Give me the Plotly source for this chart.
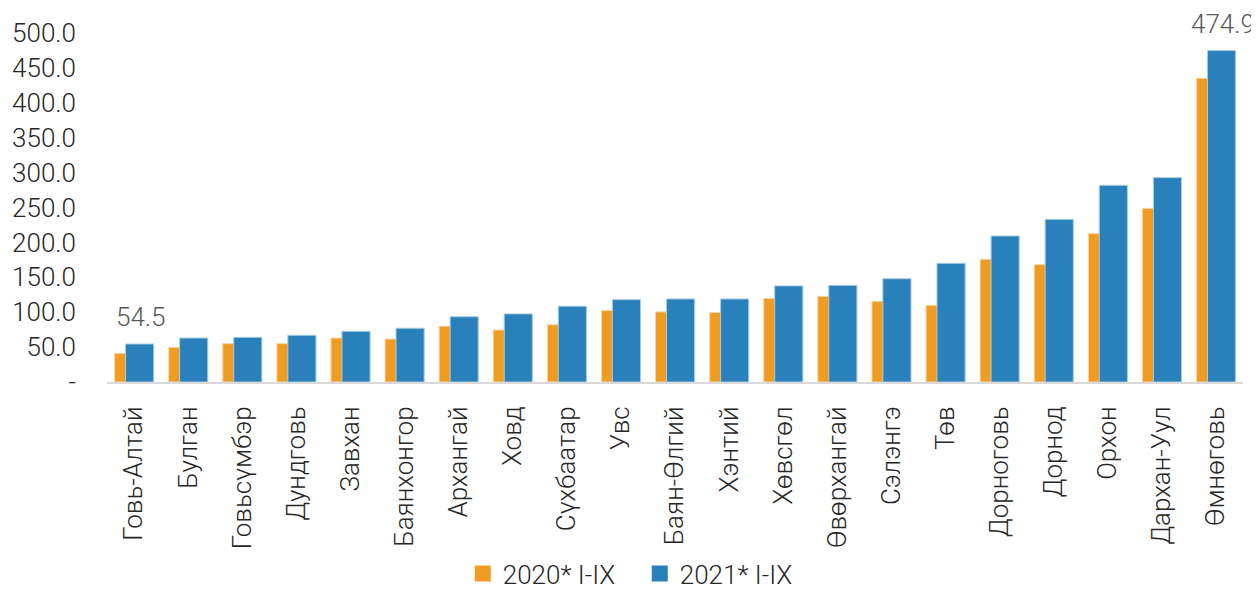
import plotly.graph_objects as go

categories = ["Говь-Алтай", "Булган", "Говьсүмбэр", "Дундговь", "Завхан", "Баянхонгор",
              "Архангай", "Ховд", "Сүхбаатар", "Увс", "Баян-Өлгий", "Хэнтий", "Хөвсгөл",
              "Өвөрхангай", "Сэлэнгэ", "Төв", "Дорноговь", "Дорнод", "Орхон", "Дархан-Уул", "Өмнөговь"]
v2020 = [41.0, 49.7, 55.0, 55.0, 63.0, 61.6, 80.0, 74.5, 82.0, 102.6, 100.5, 99.5, 119.7,
         122.8, 115.6, 110.0, 175.8, 168.2, 212.6, 248.8, 435.2]
v2021 = [54.5, 63.0, 64.0, 67.0, 72.6, 77.0, 93.5, 97.6, 108.6, 118.0, 119.0, 119.0, 137.7,
         138.5, 148.0, 170.0, 209.2, 233.0, 281.8, 292.8, 474.9]
series_names = ["2020* I-IX", "2021* I-IX"]
y_ticks = [0, 50, 100, 150, 200, 250, 300, 350, 400, 450, 500]
y_tick_labels = ["-", "50.0", "100.0", "150.0", "200.0", "250.0", "300.0", "350.0", "400.0", "450.0", "500.0"]
labeled_idx = [0, 20]

ORANGE = "#F09C22"
BLUE = "#2980BA"
FONT = "Roboto Light, Roboto"
FS = 26

# page body has an 8px default margin; size the figure to fit the window
W, H = 1251, 583
ML, MR, MT, MB = 99, 16, 25, 209

bar_w = 0.52
off_orange = -0.36
off_blue = -0.157
cat_px = (W - ML - MR) / len(categories)

fig = go.Figure()
fig.add_trace(go.Bar(
    x=categories, y=v2020, name=series_names[0], showlegend=False,
    marker=dict(color=ORANGE, line=dict(color="#F8D7A8", width=1)),
    width=bar_w, offset=off_orange,
))
fig.add_trace(go.Bar(
    x=categories, y=v2021, name=series_names[1], showlegend=False,
    marker=dict(color=BLUE, line=dict(color="#A9CBE3", width=1)),
    width=bar_w, offset=off_blue,
))
# legend entries
for name, col in zip(series_names, [ORANGE, BLUE]):
    fig.add_trace(go.Scatter(
        x=[None], y=[None], mode="markers", name=name,
        marker=dict(symbol="square", size=16, color=col),
    ))

for i in labeled_idx:
    fig.add_annotation(
        x=categories[i], y=v2021[i], text=f"{v2021[i]:.1f}",
        xref="x", yref="y", showarrow=False, yanchor="bottom",
        xshift=(off_blue + bar_w / 2) * cat_px + 1, yshift=10,
        font=dict(family=FONT, size=26, color="#595959", weight=300),
    )

fig.update_layout(
    width=W, height=H,
    margin=dict(l=ML, r=MR, t=MT, b=MB, autoexpand=False),
    paper_bgcolor="white", plot_bgcolor="white",
    barmode="overlay",
    font=dict(family=FONT, size=FS, color="#262626"),
    xaxis=dict(
        type="category", tickangle=-90, showgrid=False, ticks="",
        showline=True, linecolor="#D9D9D9", linewidth=2, automargin=False,
        tickfont=dict(family=FONT, size=FS, color="#262626", weight=300),
        range=[-0.5, len(categories) - 0.5], ticklabelstandoff=12,
    ),
    yaxis=dict(
        range=[0, 500], tickvals=y_ticks, ticktext=y_tick_labels,
        showgrid=False, zeroline=False, showline=False, ticks="", automargin=False,
        tickfont=dict(family=FONT, size=FS, color="#262626", weight=300),
        ticklabelstandoff=30,
    ),
    legend=dict(
        orientation="h", x=0.505, xanchor="center", xref="container",
        y=-0.549, yanchor="middle", yref="paper",
        font=dict(family=FONT, size=FS, color="#262626", weight=300),
        itemwidth=30, traceorder="normal", entrywidth=132,
        bgcolor="rgba(0,0,0,0)", borderwidth=0,
    ),
    showlegend=True,
)

fig.write_html("out.html")
